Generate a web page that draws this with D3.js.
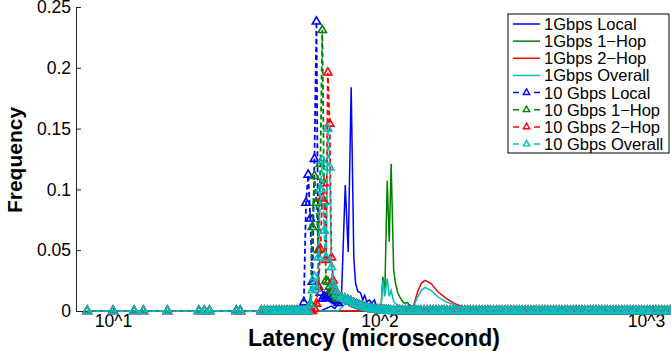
<!DOCTYPE html>
<html>
<head>
<meta charset="utf-8">
<script src="https://cdn.jsdelivr.net/npm/d3@7"></script>
<style>
body { margin: 0; background: #fff; }
text { font-family: "Liberation Sans", Arial, Helvetica, sans-serif; }
</style>
</head>
<body>
<svg id="chart"></svg>
<script>
// latency bins (microsecond) and frequencies
let lowLatency = [8, 10, 12, 13, 16, 21, 22, 23, 29, 30, 36, 37, 38, 39, 40, 41, 42, 43, 44, 45, 46, 47, 48, 49];
let lowFreq = [0, 0, 0, 0, 0, 0, 0, 0, 0, 0, 0, 0, 0, 0, 0, 0, 0, 0, 0, 0, 0, 0, 0, 0];

let peakLatency = [50, 51, 52, 53, 54, 55, 56, 57, 58, 59, 60, 61, 62, 63, 64, 65, 66, 67, 68, 69, 70];
let local10G = [0, 0, 0.007, 0.089, 0.112, 0.076, 0.024, 0.125, 0.238, 0.02, 0.015, 0.01, 0.012, 0.011, 0.013, 0.013, 0.011, 0.01, 0.009, 0.008, 0.0065];
let hop1_10G = [0, 0, 0, 0, 0.003, 0.006, 0.069, 0.111, 0.089, 0.05, 0.121, 0.231, 0.09, 0.025, 0.024, 0.02, 0.017, 0.015, 0.013, 0.011, 0.01];
let hop2_10G = [0, 0, 0, 0, 0, 0, 0, 0.002, 0.006, 0.02, 0.051, 0.093, 0.105, 0.042, 0.196, 0.154, 0.044, 0.025, 0.018, 0.014, 0.012];
let overall10G = [0, 0, 0, 0, 0, 0.005, 0.017, 0.028, 0.018, 0.044, 0.1, 0.124, 0.066, 0.044, 0.15, 0.118, 0.036, 0.022, 0.017, 0.014, 0.012];

// long flat tail of the 10 Gbps histograms
let tailLatency = [72, 74, 76, 78, 80, 82, 84, 86, 88, 90, 92, 94, 96, 98, 100, 102, 104, 106, 108, 110,
    113, 116, 119, 122, 125, 128, 131, 134, 137, 140, 143, 147, 151, 155, 159, 163, 167, 171, 175, 179,
    184, 189, 194, 199, 204, 209, 214, 219, 225, 231, 237, 243, 249, 255, 261, 268, 275, 282, 289, 296,
    303, 311, 319, 327, 335, 343, 352, 361, 370, 379, 388, 398, 408, 418, 428, 439, 450, 461, 472, 484,
    496, 508, 521, 534, 547, 561, 575, 589, 604, 619, 634, 650, 666, 683, 700, 717, 735, 753, 772, 791,
    811, 831, 852, 873, 895, 917, 940, 963, 987, 1012, 1037, 1063, 1090, 1117, 1145, 1174, 1203, 1233, 1264];
let tailFreq = [0.011, 0.01, 0.009, 0.008, 0.0065, 0.0055, 0.0045, 0.0038, 0.003, 0.0025, 0.002, 0.0016, 0.0012, 0.001, 0.0008, 0.0006, 0.0005, 0.0004, 0.0003, 0.0002,
    0, 0, 0, 0, 0, 0, 0, 0, 0, 0, 0, 0, 0, 0, 0, 0, 0, 0, 0, 0,
    0, 0, 0, 0, 0, 0, 0, 0, 0, 0, 0, 0, 0, 0, 0, 0, 0, 0, 0, 0,
    0, 0, 0, 0, 0, 0, 0, 0, 0, 0, 0, 0, 0, 0, 0, 0, 0, 0, 0, 0,
    0, 0, 0, 0, 0, 0, 0, 0, 0, 0, 0, 0, 0, 0, 0, 0, 0, 0, 0, 0,
    0, 0, 0, 0, 0, 0, 0, 0, 0, 0, 0, 0, 0, 0, 0, 0, 0, 0, 0];

let local1GLatency = [8, 60, 66, 68, 70, 71.9, 74.4, 76.3, 78.3, 80.1, 81.3, 82.9, 84.9, 86.6, 87.9, 89.6, 91.7, 93.6, 95.8, 97.4, 100, 104, 1250];
let local1GFreq = [0, 0, 0.004, 0.002, 0.006, 0.008, 0.1035, 0.0485, 0.184, 0.044, 0.023, 0.016, 0.015, 0.009, 0.013, 0.0076, 0.009, 0.0065, 0.009, 0.004, 0.001, 0, 0];

let hop1_1GLatency = [8, 95, 100, 101.5, 102.9, 104.7, 106.9, 108.8, 110.6, 113.0, 114.8, 117.1, 119.8, 122.3, 124.0, 127.6, 129.5, 132.1, 136.4, 141, 1250];
let hop1_1GFreq = [0, 0, 0.002, 0.005, 0.028, 0.015, 0.107, 0.057, 0.121, 0.034, 0.023, 0.015, 0.0106, 0.0076, 0.0065, 0.007, 0.005, 0.0035, 0.001, 0, 0];

let hop2_1GLatency = [8, 130, 134.5, 139.1, 143.7, 148.3, 156.2, 165.4, 177.7, 191, 202.3, 220.5, 258, 1250];
let hop2_1GFreq = [0, 0, 0.005, 0.016, 0.023, 0.0252, 0.0226, 0.016, 0.0104, 0.0063, 0.004, 0.002, 0.0005, 0];

let overall1GLatency = [8, 70, 74.4, 78.3, 82, 90, 100, 101.5, 102.9, 104.7, 106.9, 108.8, 110.6, 113.0, 114.8, 117, 125,
    134.5, 139.1, 143.7, 148.3, 156.2, 165.4, 177.7, 191, 202.3, 220.5, 258, 1250];
let overall1GFreq = [0, 0, 0.006, 0.01, 0.004, 0.002, 0.002, 0.005, 0.025, 0.012, 0.0267, 0.012, 0.017, 0.0076, 0.006, 0.005, 0.002,
    0.004, 0.0117, 0.017, 0.0194, 0.017, 0.0117, 0.0076, 0.005, 0.003, 0.0015, 0.0004, 0];

let legendNames = ["1Gbps Local", "1Gbps 1\u2212Hop", "1Gbps 2\u2212Hop", "1Gbps Overall",
    "10 Gbps Local", "10 Gbps 1\u2212Hop", "10 Gbps 2\u2212Hop", "10 Gbps Overall"];
let colors = ["#0000ff", "#008000", "#ff0000", "#00bfbf"];
let yTicks = [0, 0.05, 0.1, 0.15, 0.2, 0.25];
let xTicks = [10, 100, 1000];

let width = 671, height = 351;

function zip(lat, freq) {
    let res = [];
    for (let i = 0; i < lat.length; i++) {
        res.push({lat: lat[i], freq: freq[i]});
    }
    return res;
}

function tenGig(peak) {
    return zip(lowLatency.concat(peakLatency, tailLatency), lowFreq.concat(peak, tailFreq));
}

let oneGigSeries = [
    zip(local1GLatency, local1GFreq),
    zip(hop1_1GLatency, hop1_1GFreq),
    zip(hop2_1GLatency, hop2_1GFreq),
    zip(overall1GLatency, overall1GFreq)
];
let tenGigSeries = [tenGig(local10G), tenGig(hop1_10G), tenGig(hop2_10G), tenGig(overall10G)];

let svg = d3.select("#chart").attr("width", width).attr("height", height);

let x = d3.scaleLog().domain([7.26, 1242]).range([76, 671]);
let y = d3.scaleLinear().domain([0, 0.25]).range([311, 7]);

// axes (ticks point inward, matlab style)
svg.append("g")
    .attr("transform", "translate(0,311)")
    .call(d3.axisBottom(x).tickValues(xTicks)
        .tickFormat(d => "10^" + Math.round(Math.log10(d)))
        .tickSizeInner(-5).tickSizeOuter(0).tickPadding(4));
svg.append("g")
    .attr("transform", "translate(76,0)")
    .call(d3.axisLeft(y).tickValues(yTicks)
        .tickFormat(d => d === 0 ? "0" : String(d))
        .tickSizeInner(-5).tickSizeOuter(0).tickPadding(5));
svg.selectAll(".tick text").attr("font-size", 17.5).attr("fill", "#000")
    .attr("font-family", "Liberation Sans, Arial, sans-serif");
svg.selectAll(".domain, .tick line").attr("stroke", "#222");

let line = d3.line().x(d => x(d.lat)).y(d => y(d.freq));
let tri = d3.symbol().type(d3.symbolTriangle).size(30);

let plot = svg.append("g");

// 1 Gbps: solid lines
oneGigSeries.forEach(function (s, i) {
    plot.append("path").datum(s)
        .attr("d", line)
        .attr("fill", "none")
        .attr("stroke", colors[i])
        .attr("stroke-width", 1.5);
});

// 10 Gbps: dashed lines with triangle markers
tenGigSeries.forEach(function (s, i) {
    plot.append("path").datum(s)
        .attr("d", line)
        .attr("fill", "none")
        .attr("stroke", colors[i])
        .attr("stroke-width", 1.8)
        .attr("stroke-dasharray", "5,3");
    plot.append("g").selectAll("path").data(s).enter().append("path")
        .attr("d", tri)
        .attr("transform", d => "translate(" + x(d.lat) + "," + y(d.freq) + ")")
        .attr("fill", "none")
        .attr("stroke", colors[i])
        .attr("stroke-width", 1.6);
});

// axis titles
svg.append("text")
    .attr("transform", "translate(22,160) rotate(-90)")
    .attr("text-anchor", "middle")
    .attr("font-size", 21).attr("font-weight", "bold")
    .text("Frequency");
svg.append("text")
    .attr("x", 374).attr("y", 346)
    .attr("text-anchor", "middle")
    .attr("font-size", 23).attr("font-weight", "bold")
    .text("Latency (microsecond)");

// legend
let legend = svg.append("g");
legend.append("rect")
    .attr("x", 508).attr("y", 14).attr("width", 161).attr("height", 139)
    .attr("fill", "#fff").attr("stroke", "#000").attr("stroke-width", 1);
legendNames.forEach(function (name, i) {
    let cy = 24 + i * 17.15;
    let c = colors[i % 4];
    if (i < 4) {
        legend.append("line")
            .attr("x1", 513).attr("x2", 540).attr("y1", cy).attr("y2", cy)
            .attr("stroke", c).attr("stroke-width", 1.5);
    } else {
        legend.append("line")
            .attr("x1", 513).attr("x2", 540).attr("y1", cy).attr("y2", cy)
            .attr("stroke", c).attr("stroke-width", 1.5)
            .attr("stroke-dasharray", "6,15,6");
        legend.append("path")
            .attr("d", d3.symbol().type(d3.symbolTriangle).size(18))
            .attr("transform", "translate(526.5," + cy + ")")
            .attr("fill", "none").attr("stroke", c).attr("stroke-width", 1.4);
    }
    legend.append("text")
        .attr("x", 544).attr("y", cy).attr("dy", "0.36em")
        .attr("font-size", 16.5)
        .text(name);
});
</script>
</body>
</html>
